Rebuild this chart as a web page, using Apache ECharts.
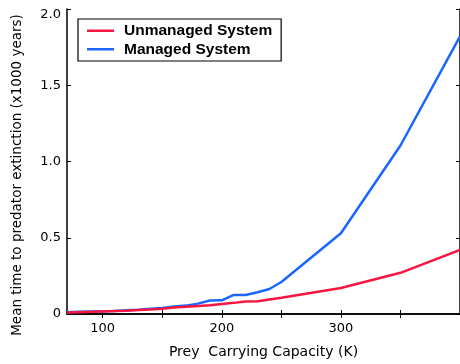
<!DOCTYPE html>
<html>
<head>
<meta charset="utf-8">
<script src="https://cdn.jsdelivr.net/npm/echarts@6/dist/echarts.min.js"></script>
<style>html,body{margin:0;padding:0;background:#fff}#c{width:460px;height:364px}</style>
</head>
<body>
<div id="c"></div>
<script>
const capacity = [70, 80, 90, 100, 110, 120, 130, 140, 150, 160, 170, 180, 190, 200, 210, 220, 230, 240, 250, 300, 350, 400];
const unmanaged = [0.010, 0.012, 0.014, 0.017, 0.020, 0.022, 0.027, 0.030, 0.035, 0.042, 0.047, 0.052, 0.058, 0.065, 0.073, 0.082, 0.084, 0.095, 0.106, 0.170, 0.270, 0.420];
const managed = [0.012, 0.014, 0.016, 0.018, 0.020, 0.024, 0.028, 0.034, 0.040, 0.050, 0.055, 0.068, 0.088, 0.090, 0.125, 0.125, 0.143, 0.164, 0.210, 0.530, 1.105, 1.820];
const xTicks = [100, 150, 200, 250, 300, 350, 400];
const xTickLabels = [100, 200, 300];
const seriesNames = ['Unmanaged System', 'Managed System'];

const chart = echarts.init(document.getElementById('c'), null, {renderer: 'canvas'});
const font = 'DejaVu Sans';
const axisLine = {show: true, lineStyle: {color: '#000', width: 1.5}};
const tick = {show: true, inside: true, length: 4, lineStyle: {color: '#000', width: 1}};
chart.setOption({
  animation: false,
  grid: {left: 67, top: 9, right: -2.5, bottom: 47, containLabel: false},
  legend: {
    left: 78, top: 19, orient: 'vertical',
    backgroundColor: '#fff',
    borderColor: '#000', borderWidth: 1.2,
    padding: [3, 9, 3, 9],
    icon: 'rect',
    itemWidth: 27, itemHeight: 2.5, itemGap: 1,
    textStyle: {fontFamily: 'Liberation Sans', fontWeight: 'bold', fontSize: 15.5, lineHeight: 17.5, color: '#000', padding: [0, 0, 0, 5]},
    data: seriesNames
  },
  xAxis: [{
    type: 'value', min: 70, max: 400, position: 'bottom',
    axisLine: axisLine,
    axisTick: Object.assign({}, tick, {customValues: xTicks}),
    axisLabel: {customValues: xTickLabels, fontFamily: font, fontSize: 13, color: '#000', margin: 8},
    splitLine: {show: false},
    name: 'Prey  Carrying Capacity (K)', nameLocation: 'middle', nameGap: 31,
    nameTextStyle: {fontFamily: font, fontSize: 14, color: '#000'}
  }, {
    type: 'value', min: 70, max: 400, position: 'top',
    axisLine: axisLine,
    axisTick: Object.assign({}, tick, {customValues: xTicks}),
    axisLabel: {show: false}, splitLine: {show: false}
  }],
  yAxis: [{
    type: 'value', min: 0, max: 2, interval: 0.5, position: 'left',
    axisLine: axisLine, axisTick: tick,
    axisLabel: {
      fontFamily: font, fontSize: 13, color: '#000', margin: 6,
      formatter: v => v === 0 ? '0' : (v === 2 ? '{top|2.0}' : v.toFixed(1)),
      rich: {top: {fontFamily: font, fontSize: 13, color: '#000', padding: [12, 0, 0, 0]}}
    },
    splitLine: {show: false}
  }, {
    type: 'value', min: 0, max: 2, interval: 0.5, position: 'right',
    axisLine: axisLine, axisTick: tick,
    axisLabel: {show: false}, splitLine: {show: false}
  }],
  graphic: [{
    type: 'text', x: 17, y: 175, rotation: Math.PI / 2,
    style: {text: 'Mean time to predator extinction (x1000 years)', fontFamily: font, fontSize: 13.5, fill: '#000', align: 'center', verticalAlign: 'middle'}
  }],
  series: [{
    name: seriesNames[0], type: 'line', symbol: 'none',
    data: capacity.map((k, i) => [k, unmanaged[i]]),
    lineStyle: {color: '#f7163f', width: 2.5}, itemStyle: {color: '#f7163f'}, z: 3
  }, {
    name: seriesNames[1], type: 'line', symbol: 'none',
    data: capacity.map((k, i) => [k, managed[i]]),
    lineStyle: {color: '#1a66ff', width: 2.5}, itemStyle: {color: '#1a66ff'}, z: 2
  }]
});
</script>
</body>
</html>
